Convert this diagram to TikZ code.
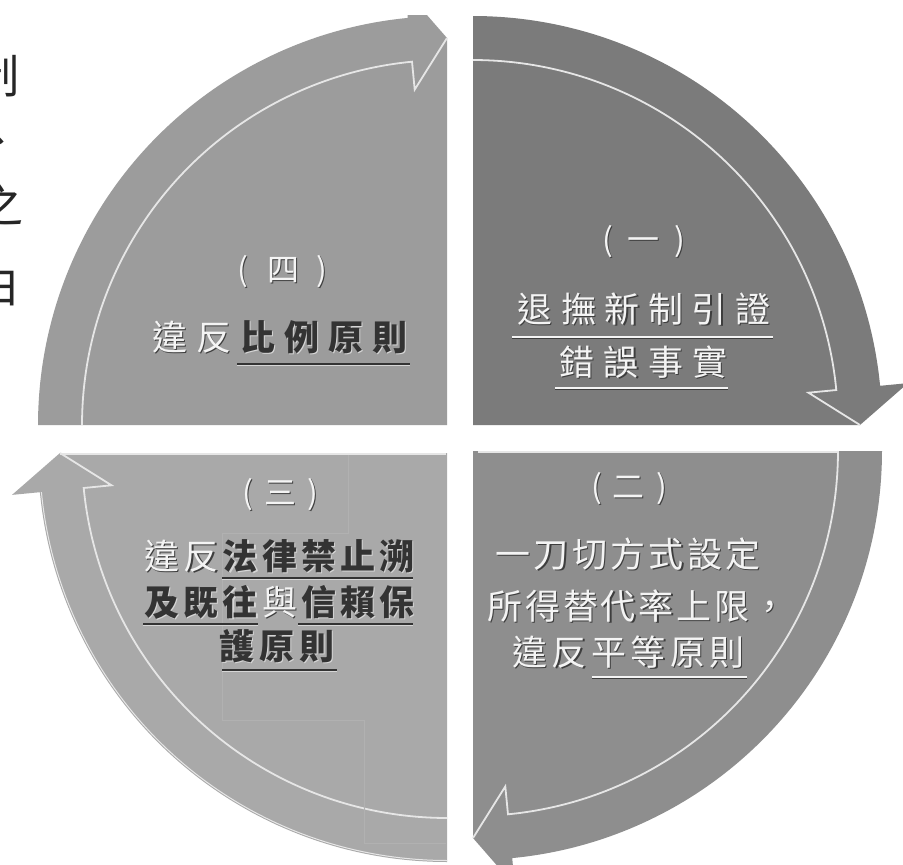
\documentclass[tikz,border=0pt]{standalone}
\usepackage{fontspec}
\newfontfamily\cjk{Noto Sans CJK TC}
\usetikzlibrary{calc}
\definecolor{qtr}{HTML}{7B7B7B}
\definecolor{qtl}{HTML}{9C9C9C}
\definecolor{qbl}{HTML}{A9A9A9}
\definecolor{qbr}{HTML}{8E8E8E}
\definecolor{lighttxt}{HTML}{F4F4F4}
\definecolor{darktxt}{HTML}{333333}
\definecolor{shadowc}{HTML}{3E3E3E}
\definecolor{glowc}{HTML}{D6D6D6}
\definecolor{hlc}{HTML}{E6E6E6}
\definecolor{leftc}{HTML}{262626}
\definecolor{faintc}{HTML}{B1B1B1}
\tikzset{
  txt/.style={inner sep=0pt, text height=30pt, text depth=5pt, font=\cjk\fontsize{35}{35}\selectfont},
  dtxt/.style={inner sep=0pt, text height=30pt, text depth=5pt, font=\cjk\bfseries\fontsize{35}{35}\selectfont},
  ptxt/.style={inner sep=0pt, text height=28pt, text depth=6pt, font=\cjk\fontsize{32}{32}\selectfont},
  lefttxt/.style={inner sep=0pt, text=leftc, text height=38pt, text depth=7pt, font=\cjk\fontsize{46}{46}\selectfont},
  hl/.style={draw=hlc, line width=1.8pt},
  lul/.style={draw=lighttxt, line width=1.6pt},
  lulsh/.style={draw=shadowc, line width=1pt},
  dul/.style={draw=darktxt, line width=2.4pt},
  dulsh/.style={draw=glowc, line width=1pt},
  faint/.style={draw=faintc, line width=0.6pt},
  bevel/.style={draw=hlc, line width=2pt}
}
\newcommand\quadrant[4]{%
  \begin{scope}[shift={#2},rotate=#3]
    \coordinate (#1) at (0,0);
    \fill[#4] (0,0) -- plot[domain=-90:-5.5,samples=90] (\x:409) -- (-5.5:437) -- (0:387) -- cycle;
    \draw[hl] plot[domain=-90:-5.5,samples=90] (\x:365) -- (-5.5:337) -- (0:387);
  \end{scope}}
\newcommand\lrow[5]{%
  \foreach \c [count=\i from 0] in {#5} {
    \node[txt,text=shadowc] at ({#2+\i*#4+1.4},{#3+1.4}) {\c};
    \node[txt,text=lighttxt] (#1\i) at ({#2+\i*#4},#3) {\c};}}
\newcommand\drow[5]{%
  \foreach \c [count=\i from 0] in {#5} {
    \node[dtxt,text=glowc] at ({#2+\i*#4+1.2},{#3+1.2}) {\c};
    \node[dtxt,text=darktxt] (#1\i) at ({#2+\i*#4},#3) {\c};}}
\newcommand\lone[4]{%
  \node[ptxt,text=shadowc] at ({#2+1.3},{#3+1.3}) {#4};
  \node[ptxt,text=lighttxt] (#1) at (#2,#3) {#4};}
\newcommand\lline[3]{%
  \draw[lulsh] (#1,{#3+1.4}) -- (#2,{#3+1.4});
  \draw[lul] (#1,#3) -- (#2,#3);}
\newcommand\dline[3]{%
  \draw[dulsh] (#1,{#3+1.9}) -- (#2,{#3+1.9});
  \draw[dul] (#1,#3) -- (#2,#3);}
\begin{document}
\begin{tikzpicture}[x=1pt,y=-1pt]
\useasboundingbox (0,0) rectangle (903,865);
\clip (0,0) rectangle (903,865);
\fill[white] (0,0) rectangle (903,865);
% left margin text (cut off)
\node[lefttxt] (l1) at (-3,78) {制};
\node[lefttxt] (l2) at (-2,140) {、};
\node[lefttxt] (l3) at (0,207) {之};
\node[lefttxt] (l4) at (-2,287) {白};
% quadrants
\begin{scope}
  \clip (0,15) rectangle (903,865);
  \quadrant{qTR}{(473,425)}{0}{qtr}
  \quadrant{qTL}{(447,425)}{90}{qtl}
  \quadrant{qBL}{(447,453)}{180}{qbl}
  \quadrant{qBR}{(473,451)}{270}{qbr}
  \begin{scope}[shift={(447,453)},rotate=180]
    \draw[draw=hlc,line width=1pt] plot[domain=-90:-5.5,samples=90] (\x:407.5);
  \end{scope}
  \draw[bevel] (478,452) -- (838,452);
  \draw[bevel] (60,454) -- (446,454);
  % faint text-box outlines
  \draw[faint] (348,455) -- (348,533) -- (222,533) -- (222,720) -- (364,720) -- (364,843) -- (446,843);
\end{scope}
% (四)
\lone{p4}{243}{270}{(}
\lone{n4}{283}{270}{四}
\lone{q4}{322}{270}{)}
\lrow{a4}{170}{338}{44}{違,反}
\drow{b4}{258}{338}{44}{比,例,原,則}
\dline{237}{410}{364}
% (一)
\lone{p1}{608}{240}{(}
\lone{n1}{643}{240}{一}
\lone{q1}{680}{240}{)}
\lrow{a1}{535}{310}{43.6}{退,撫,新,制,引,證}
\lline{512}{773}{337}
\lrow{b1}{577}{363}{44.3}{錯,誤,事,實}
\lline{555}{728}{388}
% (三)
\lone{p3}{248}{493}{(}
\lone{n3}{280}{493}{三}
\lone{q3}{313}{493}{)}
\lrow{a3}{162}{557}{39.2}{違,反}
\drow{b3}{240.4}{557}{39.2}{法,律,禁,止,溯}
\dline{222}{413}{578}
\drow{c3}{162}{603}{39.2}{及,既,往}
\lrow{d3}{279.6}{603}{39.2}{與}
\drow{e3}{318.8}{603}{39.2}{信,賴,保}
\dline{143}{258}{624}
\dline{298}{413}{624}
\drow{f3}{237}{647}{40}{護,原,則}
\dline{222}{337}{670}
% (二)
\lone{p2}{597}{487}{(}
\lone{n2}{628}{487}{二}
\lone{q2}{662}{487}{)}
\lrow{a2}{513}{555}{38.3}{一,刀,切,方,式,設,定}
\lrow{b2}{505}{607}{37.8}{所,得,替,代,率,上,限,，}
\lrow{c2}{530}{653}{39.4}{違,反,平,等,原,則}
\lline{592}{747}{677}
\end{tikzpicture}
\end{document}
